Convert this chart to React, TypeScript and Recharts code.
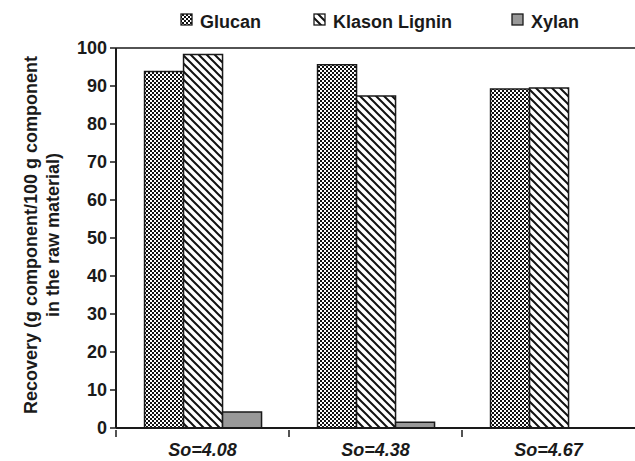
import React from "react";
import { Bar, BarChart, ReferenceLine, XAxis, YAxis } from "recharts";

const CATEGORIES = ["So=4.08", "So=4.38", "So=4.67"];
const GLUCAN = [93.8, 95.6, 89.2];
const KLASON = [98.3, 87.4, 89.5];
const XYLAN = [4.2, 1.5, 0];
const Y_TICKS = [0, 10, 20, 30, 40, 50, 60, 70, 80, 90, 100];

const data = CATEGORIES.map((c, i) => ({
  name: c,
  glucan: GLUCAN[i],
  klason: KLASON[i],
  xylan: XYLAN[i],
}));

const FONT = "Arial, 'Liberation Sans', sans-serif";
const INK = "#1a1a1a";
const W = 635;
const H = 461;
const LEFT = 116;
const BAND = (W - LEFT) / CATEGORIES.length;

const LEGEND_ITEMS = [
  { label: "Glucan", fill: "url(#checker)", x: 181 },
  { label: "Klason Lignin", fill: "url(#stripes)", x: 314 },
  { label: "Xylan", fill: "#999999", x: 512 },
];

function TopLegend() {
  return (
    <svg width={W} height={34} style={{ position: "absolute", left: 0, top: 0 }}>
      {LEGEND_ITEMS.map((it) => (
        <g key={it.label}>
          <rect x={it.x} y={14} width={11} height={11} fill={it.fill} stroke={INK} strokeWidth={1.3} />
          <text x={it.x + 19} y={28} fontFamily={FONT} fontWeight="bold" fontSize={18} fill={INK}>
            {it.label}
          </text>
        </g>
      ))}
    </svg>
  );
}

function XTick(props: any) {
  const { x, y, payload } = props;
  return (
    <g>
      <line x1={x - BAND / 2} x2={x - BAND / 2} y1={y - 6} y2={y + 1} stroke={INK} strokeWidth={1.5} />
      <text x={x} y={y + 20} textAnchor="middle" fontFamily={FONT} fontWeight="bold" fontStyle="italic" fontSize={18} fill={INK}>
        {payload.value}
      </text>
    </g>
  );
}

function YLabel() {
  return (
    <g>
      <text transform="translate(37,235) rotate(-90)" textAnchor="middle" fontFamily={FONT} fontWeight="bold" fontSize={18} fill={INK}>
        Recovery (g component/100 g component
      </text>
      <text transform="translate(59,235) rotate(-90)" textAnchor="middle" fontFamily={FONT} fontWeight="bold" fontSize={18} fill={INK}>
        in the raw material)
      </text>
    </g>
  );
}

export default function App() {
  return (
    <div style={{ position: "absolute", left: 0, top: 0, width: W, height: H, background: "#fff" }}>
      <BarChart
        width={W}
        height={H}
        data={data}
        margin={{ top: 48, right: 0, left: 0, bottom: 3 }}
        barCategoryGap="16.5%"
        barGap={0}
      >
        <defs>
          <pattern id="checker" width={4} height={4} patternUnits="userSpaceOnUse">
            <rect width={4} height={4} fill="#fff" />
            <rect x={0} y={0} width={2} height={2} fill="#111" />
            <rect x={2} y={2} width={2} height={2} fill="#111" />
          </pattern>
          <pattern id="stripes" width={8} height={8} patternUnits="userSpaceOnUse">
            <rect width={8} height={8} fill="#fff" />
            <path d="M-2,-2 L10,10 M-2,6 L2,10 M6,-2 L10,2" stroke="#111" strokeWidth={2} />
          </pattern>
        </defs>
        <XAxis
          dataKey="name"
          height={30}
          tickLine={false}
          axisLine={{ stroke: INK, strokeWidth: 2 }}
          tick={<XTick />}
          interval={0}
        />
        <YAxis
          width={LEFT}
          domain={[0, 100]}
          ticks={Y_TICKS}
          interval={0}
          tickSize={6}
          tickMargin={3}
          tickLine={{ stroke: INK, strokeWidth: 1.5 }}
          axisLine={{ stroke: INK, strokeWidth: 2 }}
          tick={{ fontFamily: FONT, fontWeight: "bold", fontSize: 18, fill: INK }}
          label={<YLabel />}
        />
        <ReferenceLine y={100} stroke={INK} strokeWidth={1.5} />
        <Bar dataKey="glucan" fill="url(#checker)" stroke={INK} strokeWidth={1.5} isAnimationActive={false} />
        <Bar dataKey="klason" fill="url(#stripes)" stroke={INK} strokeWidth={1.5} isAnimationActive={false} />
        <Bar dataKey="xylan" fill="#999999" stroke={INK} strokeWidth={1.5} isAnimationActive={false} />
      </BarChart>
      <TopLegend />
    </div>
  );
}
